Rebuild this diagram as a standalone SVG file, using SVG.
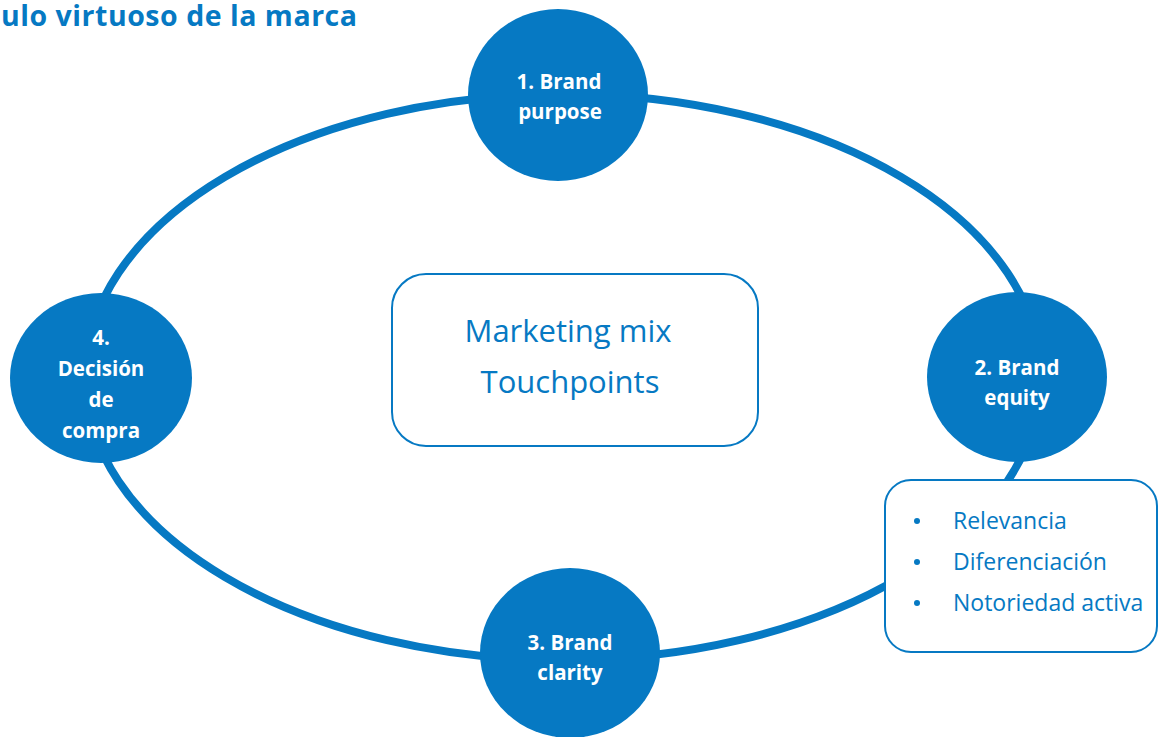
<svg xmlns="http://www.w3.org/2000/svg" width="1158" height="737" viewBox="0 0 1158 737">
  <style>
    .ring { fill: none; stroke: #0679c3; stroke-width: 8; }
    .stage { fill: #0679c3; }
    .stage-label { font-family: "Open Sans", Lato, sans-serif; font-weight: bold; font-size: 20.5px; fill: #ffffff; text-anchor: middle; }
    .box { fill: #ffffff; stroke: #0679c3; stroke-width: 2; }
    .title { font-family: "Open Sans", Lato, sans-serif; font-weight: bold; font-size: 28.5px; fill: #0679c3; }
    .mix { font-family: "Open Sans", Lato, sans-serif; font-size: 31px; fill: #0679c3; text-anchor: middle; }
    .item { font-family: "Open Sans", Lato, sans-serif; font-size: 23px; fill: #0679c3; }
  </style>
  <rect width="1158" height="737" fill="#ffffff"/>

  <text class="title" x="1" y="26" textLength="356">ulo virtuoso de la marca</text>

  <g id="connectors">
    <ellipse class="ring" cx="563" cy="377" rx="478" ry="283"/>
  </g>

  <g id="marketing-mix">
    <rect class="box" x="392" y="274" width="366" height="172" rx="34"/>
    <text class="mix" x="568" y="342">Marketing mix</text>
    <text class="mix" x="570" y="393">Touchpoints</text>
  </g>

  <g id="brand-purpose">
    <ellipse class="stage" cx="558" cy="95" rx="90" ry="86"/>
    <text class="stage-label" x="559" y="89">1. Brand</text>
    <text class="stage-label" x="560" y="119">purpose</text>
  </g>

  <g id="brand-equity">
    <ellipse class="stage" cx="1017" cy="377" rx="90" ry="85"/>
    <text class="stage-label" x="1017" y="375">2. Brand</text>
    <text class="stage-label" x="1017" y="405">equity</text>
  </g>

  <g id="brand-clarity">
    <ellipse class="stage" cx="570" cy="653" rx="90" ry="85"/>
    <text class="stage-label" x="570" y="650">3. Brand</text>
    <text class="stage-label" x="570" y="680">clarity</text>
  </g>

  <g id="decision-compra">
    <ellipse class="stage" cx="101" cy="378" rx="91" ry="85"/>
    <text class="stage-label" x="101" y="345">4.</text>
    <text class="stage-label" x="101" y="376">Decisión</text>
    <text class="stage-label" x="101" y="407">de</text>
    <text class="stage-label" x="101" y="438">compra</text>
  </g>

  <g id="equity-drivers">
    <rect class="box" x="885" y="480" width="272" height="172" rx="26"/>
    <circle cx="917" cy="521" r="3" fill="#0679c3"/>
    <circle cx="917" cy="562" r="3" fill="#0679c3"/>
    <circle cx="917" cy="603" r="3" fill="#0679c3"/>
    <text class="item" x="953" y="529">Relevancia</text>
    <text class="item" x="953" y="570">Diferenciación</text>
    <text class="item" x="953" y="611">Notoriedad activa</text>
  </g>
</svg>
